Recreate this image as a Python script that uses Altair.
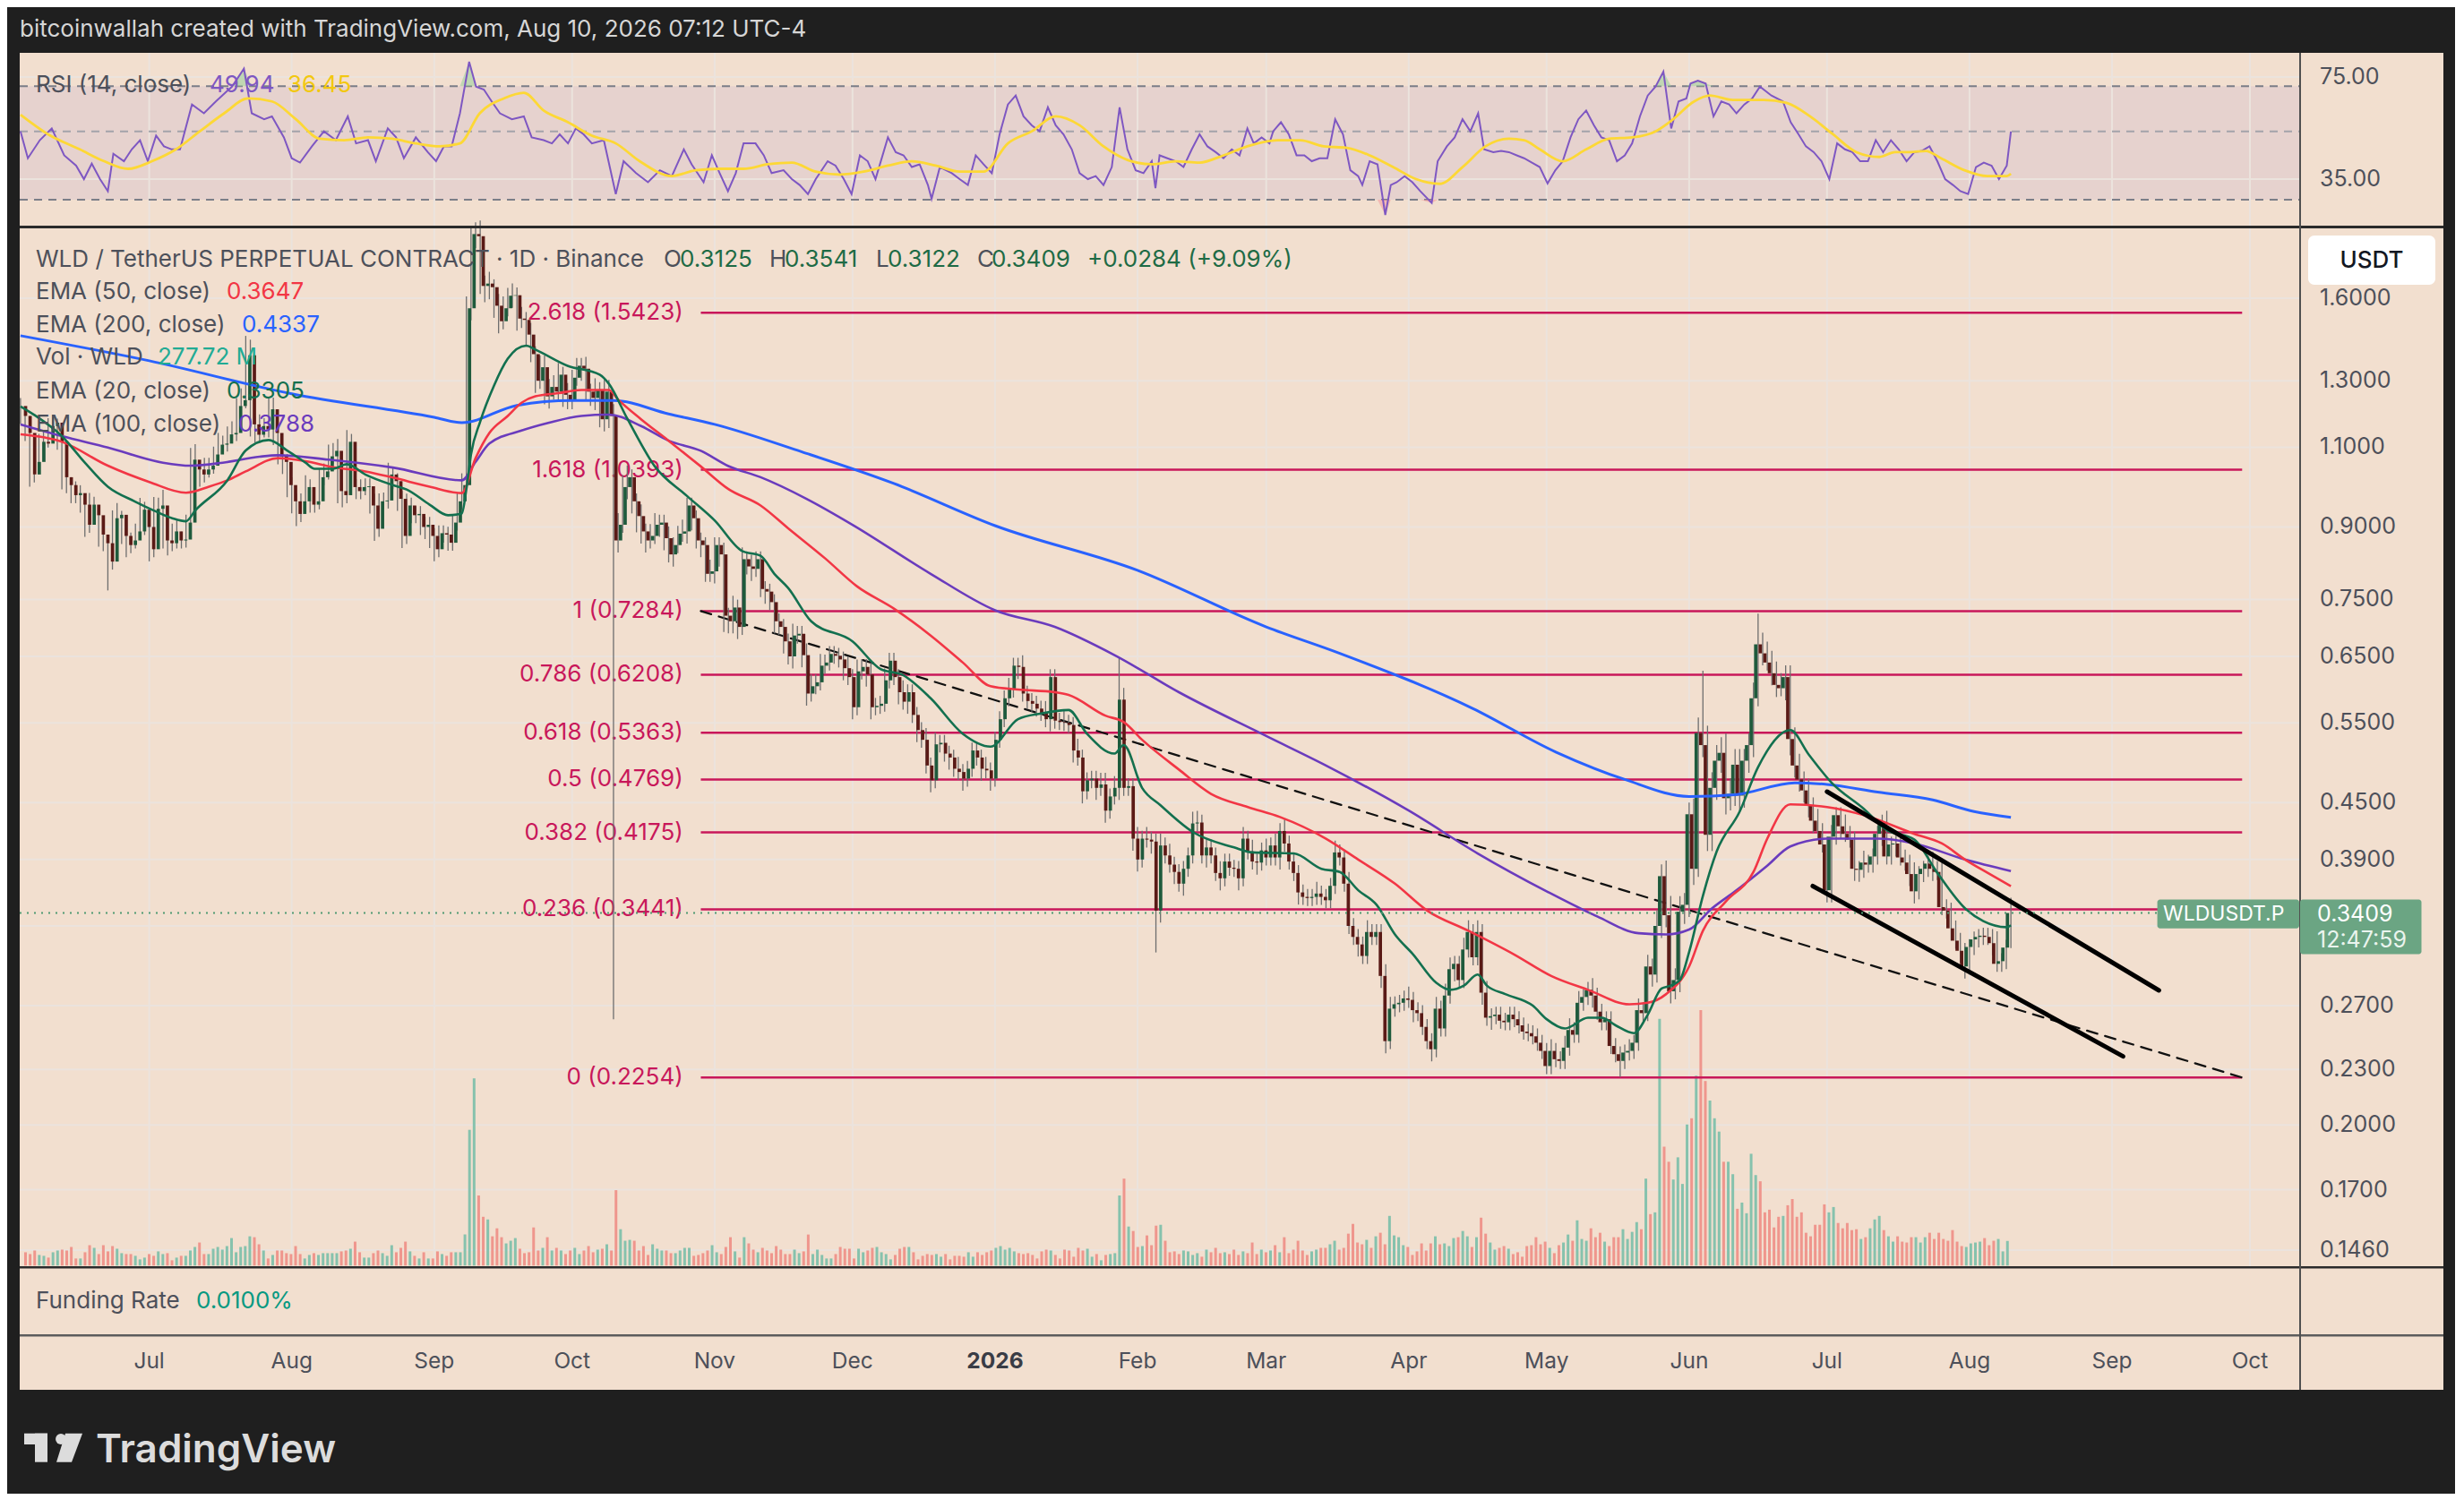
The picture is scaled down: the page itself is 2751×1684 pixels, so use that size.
import altair as alt
import numpy as np
import pandas as pd

W, H = 2733, 1660
FONT = "Inter, Roboto, 'Open Sans', sans-serif"
START = pd.Timestamp("2025-06-03")

# ---------------- candles (daily, from 2025-06-03 to 2026-08-10) ----------------
OPEN0 = 1.22
CLOSE = [
    # Jun 3 2025 - Sep 8 2025
    1.19, 1.14, 1.027, 1.06, 1.115, 1.11, 1.16, 1.17, 1.115, 1.02,
    1.00, 0.975, 0.98, 0.952, 0.905, 0.952, 0.927, 0.883, 0.864, 0.825,
    0.92, 0.928, 0.88, 0.86, 0.87, 0.89, 0.94, 0.90, 0.851, 0.942,
    0.95, 0.87, 0.864, 0.89, 0.87, 0.872, 0.91, 1.066, 1.04, 1.027,
    1.04, 1.05, 1.08, 1.107, 1.11, 1.136, 1.14, 1.22, 1.238, 1.386,
    1.165, 1.135, 1.16, 1.15, 1.21, 1.14, 1.075, 1.06, 1.00, 0.96,
    0.93, 0.96, 0.995, 0.952, 0.96, 1.02, 1.035, 1.075, 1.09, 0.985,
    0.975, 1.115, 0.995, 0.985, 0.995, 0.997, 0.95, 0.896, 0.96, 0.962,
    1.027, 1.01, 0.966, 0.88, 0.95, 0.927, 0.93, 0.90, 0.905, 0.88,
    0.851, 0.886, 0.883, 0.865, 0.91, 0.96, 1.00, 1.56,
    # Sep 9 - Nov 16
    1.88, 1.87, 1.65, 1.66, 1.645, 1.57, 1.51, 1.56, 1.61, 1.612,
    1.52, 1.515, 1.46, 1.39, 1.30, 1.345, 1.25, 1.28, 1.265, 1.32,
    1.255, 1.235, 1.31, 1.35, 1.34, 1.265, 1.245, 1.27, 1.18, 1.265,
    1.19, 0.87, 0.905, 0.995, 1.02, 0.96, 0.925, 0.89, 0.87, 0.88,
    0.905, 0.91, 0.875, 0.84, 0.86, 0.885, 0.89, 0.95, 0.92, 0.87,
    0.86, 0.80, 0.805, 0.86, 0.84, 0.72, 0.71, 0.735, 0.70, 0.83,
    0.815, 0.81, 0.83, 0.77, 0.765, 0.745, 0.71, 0.70, 0.675,
    # Nov 17 - Mar 13 2026
    0.650, 0.685, 0.688, 0.652, 0.592, 0.603, 0.609, 0.635, 0.640, 0.654,
    0.651, 0.645, 0.631, 0.617, 0.572, 0.626, 0.633, 0.621, 0.572, 0.574,
    0.577, 0.612, 0.643, 0.617, 0.594, 0.580, 0.594, 0.561, 0.540, 0.527,
    0.494, 0.476, 0.521, 0.523, 0.509, 0.504, 0.490, 0.486, 0.478, 0.490,
    0.513, 0.504, 0.490, 0.488, 0.478, 0.527, 0.555, 0.585, 0.598, 0.635,
    0.633, 0.592, 0.581, 0.577, 0.570, 0.564, 0.555, 0.617, 0.553, 0.551,
    0.550, 0.547, 0.513, 0.504, 0.463, 0.476, 0.478, 0.467, 0.471, 0.441,
    0.457, 0.467, 0.583, 0.467, 0.469, 0.411, 0.390, 0.411, 0.410, 0.408,
    0.343, 0.404, 0.394, 0.385, 0.378, 0.367, 0.381, 0.394, 0.427, 0.428,
    0.394, 0.402, 0.394, 0.377, 0.372, 0.388, 0.382, 0.381, 0.372, 0.411,
    0.398, 0.388, 0.387, 0.399, 0.392, 0.404, 0.392, 0.419, 0.406, 0.388,
    0.377, 0.359, 0.355, 0.354, 0.355, 0.358, 0.355,
    # Mar 14 - May 31
    0.352, 0.365, 0.397, 0.392, 0.367, 0.330, 0.321, 0.315, 0.306, 0.325,
    0.321, 0.325, 0.291, 0.247, 0.268, 0.271, 0.272, 0.275, 0.274, 0.267,
    0.265, 0.256, 0.247, 0.242, 0.268, 0.255, 0.277, 0.296, 0.300, 0.288,
    0.311, 0.325, 0.305, 0.325, 0.279, 0.262, 0.263, 0.264, 0.260, 0.259,
    0.264, 0.261, 0.257, 0.253, 0.252, 0.250, 0.246, 0.241, 0.232, 0.241,
    0.236, 0.235, 0.243, 0.254, 0.251, 0.272, 0.276, 0.281, 0.277, 0.266,
    0.259, 0.261, 0.244, 0.239, 0.235, 0.240, 0.241, 0.246, 0.267, 0.265,
    0.298, 0.292, 0.330, 0.374, 0.339, 0.280, 0.288, 0.342, 0.348,
    # Jun 1 - Aug 10 2026
    0.437, 0.381, 0.536, 0.520, 0.415, 0.467, 0.500, 0.510, 0.455, 0.460,
    0.495, 0.458, 0.500, 0.520, 0.585, 0.670, 0.655, 0.640, 0.623, 0.605,
    0.600, 0.617, 0.528, 0.494, 0.477, 0.464, 0.447, 0.430, 0.419, 0.405,
    0.361, 0.413, 0.436, 0.424, 0.416, 0.410, 0.381, 0.380, 0.387, 0.385,
    0.393, 0.416, 0.428, 0.393, 0.405, 0.406, 0.392, 0.387, 0.376, 0.360,
    0.376, 0.381, 0.386, 0.381, 0.378, 0.346, 0.343, 0.328, 0.318, 0.310, 0.298,
    0.313, 0.319, 0.321, 0.322, 0.321, 0.316, 0.300, 0.302, 0.3125, 0.3409,
]
# upper / lower wick length, % beyond the candle body
UP = [
    2, 2, 3, 2, 2, 3, 2, 2, 1, 3,  2, 2, 3, 2, 1, 3, 2, 2, 3, 2,
    2, 3, 1, 2, 2, 2, 3, 2, 2, 3,  2, 4, 2, 2, 3, 2, 2, 3, 4, 2,
    3, 2, 2, 3, 2, 2, 3, 2, 3, 5,  4, 2, 3, 2, 3, 3, 2, 2, 2, 2,
    2, 2, 3, 2, 2, 2, 2, 3, 2, 3,  2, 3, 2, 2, 2, 2, 2, 3, 2, 2,
    3, 2, 2, 2, 3, 2, 2, 2, 2, 2,  2, 2, 2, 2, 2, 2, 3, 3,
    1.5, 3, 4, 2, 3, 2, 3, 3, 2, 3,  2, 3, 2, 3, 2, 3, 3, 2, 3, 3,
    2, 3, 2, 2, 2, 3, 2, 3, 2, 3,  3, 3, 3, 3, 3, 2, 2, 3, 2, 3,
    3, 2, 2, 3, 2, 2, 3, 2, 2, 2,  2, 2, 3, 2, 2, 3, 2, 3, 2, 3,
    2, 3, 2, 2, 2, 2, 2, 2, 2,
    2, 3, 2, 2, 3, 3, 2, 3, 2, 2,  2, 2, 2, 3, 2, 3, 2, 2, 3, 2,
    2, 3, 2, 2, 2, 3, 2, 2, 2, 2,  3, 2, 3, 2, 2, 2, 2, 3, 2, 2,
    2, 2, 2, 3, 2, 2, 2, 2, 3, 2,  2, 3, 2, 2, 2, 2, 3, 2, 2, 2,
    3, 2, 2, 3, 2, 2, 2, 2, 3, 3,  2, 3, 11, 3, 2, 2, 3, 2, 3, 2,
    2, 3, 2, 3, 2, 2, 2, 2, 3, 3,  2, 2, 2, 2, 3, 2, 2, 2, 2, 3,
    2, 3, 2, 2, 3, 2, 3, 2, 3, 2,  2, 2, 2, 2, 2, 3, 2,
    2, 2, 3, 2, 2, 3, 2, 2, 2, 3,  2, 2, 2, 3, 3, 2, 2, 2, 3, 2,
    2, 2, 2, 2, 3, 2, 3, 3, 2, 2,  3, 3, 2, 3, 2, 3, 2, 2, 2, 2,
    2, 2, 2, 2, 2, 2, 2, 2, 2, 3,  2, 2, 3, 3, 2, 3, 2, 2, 3, 2,
    2, 2, 2, 2, 2, 2, 3, 2, 3, 2,  3, 2, 4, 3, 4, 5, 3, 4, 3,
    3, 4, 4, 17, 5, 4, 4, 4, 5, 4,  4, 4, 3, 3, 4, 8, 3, 3, 3, 3,
    3, 3, 3, 3, 3, 2, 3, 2, 3, 2,  2, 3, 2, 2, 3, 2, 2, 2, 3, 2,
    2, 2, 2, 3, 2, 2, 3, 2, 2, 3,  2, 2, 2, 3, 2, 3, 2, 2, 2, 2, 2,
    2, 2, 2, 2, 2, 2, 3, 2, 2, 3.9,
]
DN = [
    2, 2, 3, 2, 2, 2, 1, 2, 2, 3,  2, 2, 2, 2, 3, 2, 2, 3, 2, 7,
    2, 2, 2, 3, 2, 2, 1, 2, 3, 2,  2, 2, 3, 2, 2, 2, 2, 2, 2, 3,
    2, 2, 2, 2, 2, 2, 2, 2, 2, 2,  3, 2, 2, 2, 2, 3, 2, 3, 3, 3,
    3, 2, 2, 2, 2, 2, 2, 2, 2, 3,  3, 2, 2, 2, 2, 2, 2, 3, 2, 2,
    2, 2, 3, 3, 2, 2, 2, 2, 3, 3,  3, 2, 2, 2, 2, 2, 2, 1,
    3, 3, 2, 4, 3, 3, 3, 2, 2, 3,  3, 2, 3, 2, 3, 2, 2, 3, 2, 2,
    3, 2, 2, 2, 3, 2, 2, 3, 2, 3,  3, 70, 3, 2, 3, 3, 4, 3, 3, 2,
    2, 3, 3, 2, 3, 2, 2, 3, 3, 2,  3, 2, 2, 3, 3, 4, 3, 3, 3, 2,
    2, 3, 2, 2, 3, 2, 3, 2, 3,
    2, 3, 2, 3, 3, 2, 2, 2, 2, 2,  2, 2, 3, 2, 3, 2, 2, 3, 3, 2,
    2, 2, 2, 2, 3, 2, 3, 2, 3, 2,  2, 3, 2, 2, 2, 3, 2, 2, 3, 2,
    2, 2, 3, 2, 3, 2, 2, 2, 2, 2,  3, 2, 2, 2, 2, 2, 2, 3, 2, 2,
    2, 2, 3, 2, 3, 2, 2, 3, 2, 3,  2, 2, 3, 2, 2, 3, 3, 2, 2, 3,
    10, 3, 2, 2, 3, 2, 3, 2, 2, 2,  2, 3, 2, 2, 3, 2, 2, 2, 3, 2,
    2, 2, 3, 2, 2, 2, 2, 3, 2, 2,  2, 3, 2, 2, 2, 2, 2,
    2, 2, 2, 2, 2, 2, 2, 3, 2, 2,  2, 2, 3, 3, 2, 2, 2, 2, 2, 3,
    2, 2, 2, 3, 2, 2, 2, 2, 3, 2,  2, 2, 2, 2, 3, 2, 3, 2, 2, 2,
    2, 2, 2, 2, 2, 2, 2, 2, 2, 2,  2, 2, 2, 2, 2, 2, 2, 2, 3, 2,
    2, 2, 2, 2, 4, 2, 2, 2, 2, 2,  2, 3, 2, 3, 3, 3, 2, 3, 3,
    3, 4, 2, 3, 4, 4, 3, 3, 4, 3,  3, 4, 3, 3, 3, 2, 3, 2, 3, 3,
    2, 3, 4, 3, 3, 3, 3, 3, 2, 2,  3, 3, 2, 3, 2, 2, 3, 3, 2, 2,
    2, 2, 3, 2, 2, 3, 2, 2, 3, 3,  2, 2, 2, 3, 2, 2, 2, 3, 2, 3, 3,
    2, 2, 2, 2, 2, 3, 2, 2, 2, 0.1,
]
# volume, millions of WLD
VOL = [
    150, 130, 170, 120, 110, 90, 150, 170, 180, 170,
    210, 80, 80, 150, 230, 200, 130, 230, 160, 220,
    190, 140, 130, 130, 110, 70, 90, 130, 110, 160,
    130, 140, 60, 90, 110, 110, 170, 210, 260, 130,
    130, 190, 210, 180, 220, 310, 150, 210, 220, 330,
    320, 240, 170, 80, 120, 170, 170, 140, 130, 220,
    130, 80, 120, 140, 120, 140, 140, 140, 140, 160,
    170, 190, 270, 150, 90, 90, 140, 170, 140, 110,
    230, 150, 200, 270, 160, 110, 80, 150, 80, 80,
    160, 130, 110, 150, 150, 150, 350, 1530,
    2110, 790, 550, 520, 330, 420, 320, 250, 280, 310,
    190, 140, 150, 430, 170, 200, 320, 170, 200, 170,
    130, 170, 200, 130, 170, 220, 150, 180, 190, 240,
    170, 850, 410, 280, 290, 280, 170, 220, 120, 240,
    190, 170, 170, 140, 140, 170, 200, 200, 110, 120,
    140, 170, 230, 150, 130, 210, 320, 160, 90, 320,
    250, 180, 150, 200, 170, 140, 220, 180, 130,
    130, 180, 140, 160, 350, 130, 180, 120, 80, 80,
    130, 210, 190, 190, 80, 190, 150, 170, 200, 210,
    150, 130, 70, 120, 190, 210, 210, 150, 70, 110,
    130, 120, 130, 100, 130, 70, 110, 110, 100, 150,
    100, 150, 120, 150, 170, 200, 220, 180, 200, 160,
    140,
    130, 140, 120, 80, 160, 180, 170, 120, 80, 180,
    170, 100, 200, 170, 190, 100, 130, 60, 120, 130,
    140, 790, 980, 440, 390, 210, 220, 340, 230, 450,
    460, 280, 150, 160, 130, 170, 160, 120, 140, 100,
    180, 150, 200, 140, 150, 130, 180, 120, 160, 140,
    260, 130, 180, 150, 170, 230, 150, 320, 140, 180,
    280, 170, 120, 160, 180, 200,
    200, 240, 280, 180, 200, 360, 470, 260, 240, 290, 200, 330, 370, 240,
    560, 340, 320, 230, 210, 120, 160, 250, 170, 250, 330, 240, 250, 220, 310, 320, 390, 330, 210, 320,
    540, 360, 260, 180, 200, 220, 190, 130, 150, 100, 220, 230, 320, 240, 270, 200, 140, 230, 260, 350,
    280, 510, 300, 280, 420, 320, 370, 270, 220, 320, 320, 410, 300, 380,
    490, 410, 980, 580, 600, 2780, 1340, 1170, 970, 1220, 920,
    1590, 1660, 2140, 2880, 2080, 1860, 1660, 1510, 1170, 1170,
    1030, 640, 710, 590, 1260, 1020, 950, 600, 630, 430,
    550, 560, 680, 750, 550, 600, 370, 330, 460, 460,
    690, 600, 660, 480, 420, 480, 400, 410, 300, 320,
    420, 520, 560, 400, 330, 270, 330, 270, 260, 320,
    320, 260, 320, 370, 300, 370, 300, 280, 400, 270, 220,
    210, 250, 260, 270, 310, 230, 280, 300, 160, 277.72,
]

# ---------------- moving averages ----------------
EMA200 = [("2025-06-03", 1.456), ("2025-07-01", 1.367), ("2025-08-01", 1.258), ("2025-09-01", 1.186),
          ("2025-09-07", 1.170), ("2025-09-19", 1.222), ("2025-10-01", 1.237), ("2025-10-10", 1.237),
          ("2025-10-22", 1.196), ("2025-11-01", 1.165), ("2025-11-20", 1.087), ("2025-12-10", 1.004),
          ("2026-01-01", 0.903), ("2026-02-01", 0.807), ("2026-03-01", 0.700), ("2026-03-17", 0.655),
          ("2026-04-15", 0.570), ("2026-05-03", 0.511), ("2026-05-18", 0.477), ("2026-06-01", 0.457),
          ("2026-06-11", 0.459), ("2026-06-24", 0.473), ("2026-07-01", 0.471), ("2026-07-12", 0.462),
          ("2026-07-24", 0.453), ("2026-08-02", 0.440), ("2026-08-10", 0.4337)]
EMA100 = [("2025-06-03", 1.165), ("2025-06-12", 1.131), ("2025-06-22", 1.099), ("2025-07-04", 1.058),
          ("2025-07-10", 1.050), ("2025-07-17", 1.058), ("2025-07-25", 1.074), ("2025-07-29", 1.078),
          ("2025-08-09", 1.066), ("2025-08-23", 1.045), ("2025-09-07", 1.012), ("2025-09-10", 1.06),
          ("2025-09-13", 1.11), ("2025-09-20", 1.147), ("2025-09-26", 1.17), ("2025-10-03", 1.19),
          ("2025-10-09", 1.194), ("2025-10-16", 1.16), ("2025-10-22", 1.118), ("2025-10-29", 1.09),
          ("2025-11-04", 1.049), ("2025-11-11", 1.02), ("2025-11-21", 0.966), ("2025-12-01", 0.905),
          ("2025-12-18", 0.800), ("2026-01-01", 0.730), ("2026-01-14", 0.700), ("2026-01-27", 0.652),
          ("2026-02-10", 0.594), ("2026-03-01", 0.532), ("2026-03-14", 0.494), ("2026-04-01", 0.441),
          ("2026-04-16", 0.396), ("2026-05-01", 0.360), ("2026-05-12", 0.338), ("2026-05-21", 0.324),
          ("2026-05-27", 0.323), ("2026-06-01", 0.327), ("2026-06-06", 0.345), ("2026-06-11", 0.360),
          ("2026-06-18", 0.384), ("2026-06-23", 0.403), ("2026-07-01", 0.411), ("2026-07-12", 0.411),
          ("2026-07-20", 0.406), ("2026-07-31", 0.390), ("2026-08-10", 0.3788)]
EMA50 = [("2025-06-03", 1.136), ("2025-06-12", 1.115), ("2025-06-22", 1.050), ("2025-07-01", 1.008),
         ("2025-07-09", 0.981), ("2025-07-14", 0.996), ("2025-07-18", 1.012), ("2025-07-22", 1.035),
         ("2025-07-29", 1.070), ("2025-08-04", 1.062), ("2025-08-10", 1.046), ("2025-08-17", 1.035),
         ("2025-08-23", 1.019), ("2025-08-31", 0.996), ("2025-09-07", 0.980), ("2025-09-10", 1.07),
         ("2025-09-13", 1.14), ("2025-09-17", 1.19), ("2025-09-20", 1.23), ("2025-09-23", 1.25),
         ("2025-09-28", 1.26), ("2025-10-03", 1.27), ("2025-10-09", 1.27), ("2025-10-11", 1.24),
         ("2025-10-16", 1.18), ("2025-10-22", 1.118), ("2025-10-29", 1.048), ("2025-11-04", 0.99),
         ("2025-11-11", 0.95), ("2025-11-17", 0.897), ("2025-11-25", 0.832), ("2025-12-02", 0.775),
         ("2025-12-10", 0.733), ("2025-12-18", 0.685), ("2025-12-25", 0.640), ("2025-12-31", 0.603),
         ("2026-01-06", 0.598), ("2026-01-14", 0.594), ("2026-01-17", 0.590), ("2026-01-25", 0.560),
         ("2026-01-29", 0.551), ("2026-02-02", 0.527), ("2026-02-10", 0.489), ("2026-02-17", 0.460),
         ("2026-02-25", 0.445), ("2026-03-04", 0.434), ("2026-03-14", 0.411), ("2026-03-21", 0.390),
         ("2026-03-29", 0.367), ("2026-04-05", 0.343), ("2026-04-14", 0.326), ("2026-04-24", 0.307),
         ("2026-05-02", 0.291), ("2026-05-10", 0.281), ("2026-05-19", 0.271), ("2026-05-23", 0.272),
         ("2026-05-27", 0.278), ("2026-06-01", 0.298), ("2026-06-04", 0.326), ("2026-06-09", 0.351),
         ("2026-06-15", 0.378), ("2026-06-18", 0.411), ("2026-06-23", 0.448), ("2026-07-01", 0.445),
         ("2026-07-09", 0.436), ("2026-07-20", 0.416), ("2026-07-26", 0.406), ("2026-07-31", 0.390),
         ("2026-08-05", 0.377), ("2026-08-10", 0.3647)]
EMA20 = [("2025-06-03", 1.219), ("2025-06-06", 1.193), ("2025-06-12", 1.131), ("2025-06-17", 1.058),
         ("2025-06-22", 0.996), ("2025-06-28", 0.959), ("2025-07-02", 0.938), ("2025-07-06", 0.920),
         ("2025-07-09", 0.913), ("2025-07-11", 0.938), ("2025-07-18", 1.012), ("2025-07-22", 1.091),
         ("2025-07-27", 1.120), ("2025-07-31", 1.091), ("2025-08-04", 1.058), ("2025-08-06", 1.042),
         ("2025-08-10", 1.042), ("2025-08-13", 1.054), ("2025-08-17", 1.027), ("2025-08-23", 1.000),
         ("2025-08-26", 0.989), ("2025-08-31", 0.952), ("2025-09-04", 0.927), ("2025-09-07", 0.931),
         ("2025-09-08", 0.99), ("2025-09-09", 1.08), ("2025-09-11", 1.173), ("2025-09-14", 1.284),
         ("2025-09-17", 1.374), ("2025-09-21", 1.42), ("2025-09-23", 1.406), ("2025-09-30", 1.35),
         ("2025-10-07", 1.32), ("2025-10-09", 1.29), ("2025-10-13", 1.182), ("2025-10-19", 1.048),
         ("2025-10-26", 0.973), ("2025-11-01", 0.915), ("2025-11-07", 0.847), ("2025-11-11", 0.837),
         ("2025-11-14", 0.80), ("2025-11-17", 0.772), ("2025-11-22", 0.71), ("2025-12-01", 0.675),
         ("2025-12-07", 0.63), ("2025-12-12", 0.62), ("2025-12-18", 0.585), ("2025-12-25", 0.535),
         ("2025-12-31", 0.518), ("2026-01-06", 0.555), ("2026-01-11", 0.563), ("2026-01-17", 0.568),
         ("2026-01-21", 0.535), ("2026-01-27", 0.509), ("2026-01-29", 0.52), ("2026-02-02", 0.467),
         ("2026-02-06", 0.447), ("2026-02-13", 0.418), ("2026-02-22", 0.402), ("2026-02-26", 0.397),
         ("2026-03-07", 0.396), ("2026-03-13", 0.381), ("2026-03-17", 0.378), ("2026-03-21", 0.361),
         ("2026-03-25", 0.348), ("2026-03-29", 0.323), ("2026-04-02", 0.307), ("2026-04-07", 0.286),
         ("2026-04-10", 0.281), ("2026-04-13", 0.284), ("2026-04-16", 0.292), ("2026-04-18", 0.284),
         ("2026-04-22", 0.278), ("2026-04-28", 0.270), ("2026-05-01", 0.261), ("2026-05-05", 0.255),
         ("2026-05-10", 0.262), ("2026-05-13", 0.262), ("2026-05-16", 0.257), ("2026-05-20", 0.252),
         ("2026-05-23", 0.264), ("2026-05-26", 0.282), ("2026-05-28", 0.284), ("2026-05-30", 0.288),
         ("2026-06-01", 0.309), ("2026-06-04", 0.356), ("2026-06-07", 0.398), ("2026-06-12", 0.44),
         ("2026-06-16", 0.492), ("2026-06-23", 0.54), ("2026-06-27", 0.508), ("2026-07-02", 0.473),
         ("2026-07-09", 0.443), ("2026-07-14", 0.42), ("2026-07-20", 0.41), ("2026-07-25", 0.377),
         ("2026-07-31", 0.345), ("2026-08-04", 0.334), ("2026-08-09", 0.329), ("2026-08-10", 0.3305)]

# ---------------- RSI pane (day index from 2025-06-03, value) ----------------
RSI = [(0, 50.0), (1.6, 40.9), (4.2, 46.8), (6.8, 51.1), (9.5, 41.8), (12.1, 38.7), (13.8, 35.0), (15.5, 39.3), (17.3, 35.0), (19.0, 32.0),
       (20.2, 42.3), (22.5, 40.0), (24.2, 43.7), (26.0, 46.8), (27.7, 40.0), (29.5, 48.4), (31.2, 44.7), (32.9, 43.7), (34.7, 43.7), (37.3, 61.1),
       (39.9, 57.2), (42.5, 62.5), (46.0, 69.8), (48.6, 79.8), (50.3, 57.2), (53.0, 54.7), (54.7, 55.9), (57.3, 47.8), (59.0, 40.9), (60.8, 39.6),
       (63.4, 44.7), (66.0, 50.0), (68.6, 46.8), (71.2, 55.9), (73.0, 45.7), (75.6, 46.8), (77.3, 40.0), (79.9, 51.1), (81.7, 47.8), (83.4, 40.9),
       (86.0, 47.8), (88.6, 42.8), (90.4, 40.0), (92.1, 44.7), (93.8, 44.7), (95.6, 57.2), (97.6, 84.0), (99.1, 69.8), (100.8, 68.3), (102.5, 62.5),
       (104.3, 57.2), (106.9, 54.7), (109.5, 55.9), (111.2, 47.8), (113.8, 46.8), (115.6, 45.7), (117.3, 48.9), (119.1, 45.7), (120.8, 51.1), (122.5, 48.9),
       (124.3, 45.7), (126.9, 46.8), (129.5, 31.3), (131.2, 40.0), (133.9, 36.6), (136.5, 34.2), (139.1, 37.4), (141.7, 35.8), (144.3, 43.7), (146.0, 39.1),
       (148.6, 34.2), (150.4, 41.8), (152.1, 36.6), (153.9, 32.0), (155.6, 36.6), (157.3, 45.7), (159.9, 45.7), (161.7, 41.8), (163.4, 36.6), (166.0, 37.4),
       (167.8, 35.0), (169.5, 33.5), (171.3, 31.3), (173.0, 35.0), (175.6, 40.0), (177.3, 38.7), (179.1, 35.0), (180.8, 31.3), (182.6, 41.8), (184.3, 40.0),
       (186.0, 35.0), (188.7, 47.8), (190.4, 42.8), (192.1, 41.8), (193.9, 38.3), (195.6, 39.1), (197.4, 33.5), (198.2, 30.2), (200.0, 38.3), (202.6, 36.6),
       (204.3, 35.0), (206.1, 33.5), (207.8, 41.8), (209.5, 39.1), (211.3, 36.6), (213.0, 48.9), (214.8, 61.1), (216.5, 65.3), (218.2, 55.9), (220.0, 52.3),
       (221.7, 50.0), (223.5, 59.8), (225.2, 52.3), (226.9, 48.9), (228.7, 43.7), (230.4, 36.6), (232.2, 35.0), (233.9, 35.8), (235.6, 33.5), (237.4, 38.3),
       (239.1, 59.8), (240.8, 43.7), (242.6, 37.4), (244.3, 36.6), (246.1, 40.0), (246.9, 32.7), (247.8, 41.8), (249.5, 40.9), (251.3, 40.0), (253.0, 38.3),
       (254.8, 43.7), (256.5, 48.9), (258.2, 44.7), (260.0, 42.8), (261.7, 40.9), (263.5, 43.7), (265.2, 41.8), (266.9, 51.1),
       (268.3, 45.7), (270.0, 47.8), (271.7, 45.7), (272.5, 50.0), (274.2, 53.5), (275.9, 48.9), (277.6, 41.8), (279.3, 41.8), (280.9, 40.0), (282.6, 40.9),
       (284.3, 40.9), (286.0, 54.7), (287.7, 48.9), (289.3, 37.4), (291.0, 35.8), (291.9, 33.5), (293.5, 40.0), (295.2, 39.1), (296.9, 26.8), (298.1, 33.5),
       (299.4, 34.2), (301.1, 35.8), (302.8, 34.2), (304.5, 32.0), (307.0, 29.3), (308.3, 40.0), (310.3, 44.7), (312.0, 47.8), (313.7, 54.7), (315.4, 50.0),
       (317.1, 57.2), (318.4, 43.7), (320.4, 42.8), (322.1, 43.2), (323.8, 42.8), (325.5, 41.8), (327.1, 40.9), (328.8, 39.6), (330.5, 38.3), (332.2, 33.9),
       (333.9, 37.4), (335.5, 40.0), (337.2, 47.8), (338.9, 54.7), (340.6, 58.4), (342.3, 52.3), (343.9, 47.8), (345.6, 46.8), (347.3, 40.0), (349.0, 41.8),
       (350.6, 45.7), (352.3, 55.9), (354.0, 65.3), (355.7, 69.8), (357.4, 78.1), (359.1, 51.1), (360.7, 62.5), (362.4, 63.9), (363.3, 71.4), (364.9, 73.0),
       (366.6, 71.4), (368.3, 55.9), (370.0, 62.5), (371.7, 61.1), (373.3, 57.2), (375.0, 61.1), (376.7, 63.9), (378.4, 69.8), (380.9, 65.3), (383.4, 62.5),
       (385.1, 53.5), (386.8, 48.9), (388.4, 44.7), (390.1, 42.8), (391.8, 40.0), (393.5, 35.0), (395.2, 45.7), (396.9, 43.7), (398.5, 42.8), (400.2, 40.0),
       (401.9, 40.0), (403.6, 46.8), (405.2, 42.8), (406.9, 46.8), (408.6, 43.7), (410.3, 40.0), (412.0, 42.8), (413.6, 43.2), (415.3, 44.7), (417.0, 40.0),
       (418.7, 35.0), (420.4, 33.5), (422.0, 32.0), (423.7, 31.3), (425.4, 38.3), (427.1, 39.6), (428.8, 38.7), (430.4, 35.0), (432.1, 38.7), (433.0, 49.94)]
RSI_MA = [(0, 56.6), (6.0, 48.9), (12.9, 43.7), (18.2, 40.0), (23.4, 37.8), (28.6, 40.0), (33.8, 43.7), (39.0, 50.0), (44.3, 57.2), (49.5, 63.9),
          (54.7, 62.5), (59.9, 54.7), (65.1, 47.3), (70.4, 46.8), (75.6, 47.8), (80.8, 47.3), (86.0, 45.7), (91.2, 44.7), (95.6, 45.7), (99.9, 57.2),
          (105.1, 63.9), (109.5, 66.7), (113.8, 58.4), (119.1, 53.5), (124.3, 48.4), (129.5, 45.7), (134.7, 40.0), (141.7, 35.8), (146.9, 37.4), (152.1, 37.8),
          (157.3, 37.8), (162.6, 39.1), (167.8, 39.6), (173.0, 37.0), (178.2, 36.2), (183.4, 37.0), (188.7, 38.7), (193.9, 40.0), (199.1, 38.7), (204.3, 37.0),
          (209.5, 37.0), (214.8, 45.7), (220.0, 50.0), (225.2, 55.9), (230.4, 52.3), (235.6, 44.7), (240.8, 40.4), (246.1, 39.1), (251.3, 40.0), (256.5, 39.6),
          (261.7, 41.8), (266.9, 44.7), (273.4, 46.8), (278.4, 46.8), (283.5, 44.7), (288.5, 44.2), (293.5, 41.8), (298.6, 38.3), (303.6, 35.0), (308.7, 33.8),
          (313.7, 38.3), (318.7, 44.7), (323.8, 47.3), (327.1, 46.8), (330.5, 43.7), (335.5, 40.0), (340.6, 43.7), (345.6, 47.3), (350.6, 47.8), (355.7, 50.0),
          (359.1, 54.1), (364.1, 62.5), (367.5, 65.3), (372.5, 63.2), (379.2, 63.2), (384.2, 61.8), (389.3, 55.9), (394.3, 48.9), (399.4, 42.8), (404.4, 41.3),
          (407.8, 42.8), (411.1, 42.8), (414.5, 43.2), (417.8, 40.9), (422.9, 37.4), (427.9, 35.8), (432.1, 35.8), (433.0, 36.45)]

# ---------------- drawings ----------------
FIB_RATIO = ["2.618", "1.618", "1", "0.786", "0.618", "0.5", "0.382", "0.236", "0"]
FIB_PRICE = [1.5423, 1.0393, 0.7284, 0.6208, 0.5363, 0.4769, 0.4175, 0.3441, 0.2254]
FIB_FROM, FIB_TO = 148.0, 483.3
DIAG = [(148.0, 0.7284), (483.3, 0.2254)]
CH_UPPER = [(393.0, 0.4626), (465.2, 0.2806)]
CH_LOWER = [(389.9, 0.3648), (457.4, 0.2377)]
LAST_PRICE = 0.3409

PRICE_TICKS = [1.6, 1.3, 1.1, 0.9, 0.75, 0.65, 0.55, 0.45, 0.39, 0.27, 0.23, 0.20, 0.17, 0.146]
HIDDEN_TICKS = [0.33]
RSI_TICKS = [75, 35]
MONTH_K = [28, 59, 90, 120, 151, 181, 212, 243, 271, 302, 332, 363, 393, 424, 455, 485]
MONTH_LAB = ["Jul", "Aug", "Sep", "Oct", "Nov", "Dec", "2026", "Feb", "Mar", "Apr", "May", "Jun", "Jul", "Aug", "Sep", "Oct"]

# TradingView logo pieces (pixel layout of the watermark)
LOGO_SLANT = [(1592.7, 65.0, 84.0), (1624.7, 55.0, 72.0)]

# ---------------- colours ----------------
BG = "#1f1f1f"
PANE = "#f2dfcf"
GRID = "#ebe3dd"
UPC, DNC = "#1e5a3c", "#5a1a16"
VUP, VDN = "#86c2ad", "#ef968d"
FIBC = "#c8175a"
TXT = "#4d505a"
LOGO = "#dcdcdc"

# ---------------- build tables ----------------
n = min(len(CLOSE), len(UP), len(DN), len(VOL))
opens = [OPEN0] + CLOSE[: n - 1]
df = pd.DataFrame({"k": np.arange(n), "o": opens[:n], "c": CLOSE[:n],
                   "up": UP[:n], "dn": DN[:n], "vol": VOL[:n]})
df["hi"] = np.maximum(df.o, df.c) * (1 + df.up / 100.0)
df["lo"] = np.minimum(df.o, df.c) * (1 - df.dn / 100.0)
df["body"] = np.where(df.c >= df.o, UPC, DNC)
df["vcol"] = np.where(df.c >= df.o, VUP, VDN)
df["z"] = 0.0


def kdf(pairs):
    d = pd.DataFrame(pairs, columns=["d", "v"])
    d["k"] = (pd.to_datetime(d["d"]) - START).dt.days
    return d[["k", "v"]]


rsi = pd.DataFrame(RSI, columns=["k", "v"])
rsi["ob"] = np.maximum(rsi.v, 70.0)
rsi["os"] = np.minimum(rsi.v, 30.0)
rsi["l70"] = 70.0
rsi["l30"] = 30.0
rsima = pd.DataFrame(RSI_MA, columns=["k", "v"])
fib = pd.DataFrame({"p": FIB_PRICE, "a": FIB_FROM, "b": FIB_TO,
                    "lab": [f"{r} ({p:.4f})" for r, p in zip(FIB_RATIO, FIB_PRICE)]})
DUMMY = pd.DataFrame({"a": [0]})

XS = alt.Scale(domain=[28, 485], range=[158.6, 2504.0], nice=False, zero=False)
PS = alt.Scale(type="log", domain=[0.146, 1.6], range=[1388.1, 325.0], nice=False)
VS = alt.Scale(domain=[0, 3000], range=[1405.3, 1108.0], nice=False, zero=False)
RS = alt.Scale(type="log", domain=[30, 70], range=[215.1, 88.3], nice=False)


def X(f):
    return alt.X(f, type="quantitative", scale=XS, axis=None)


def Y(f, s):
    return alt.Y(f, type="quantitative", scale=s, axis=None)


def rect_px(x1, x2, y1, y2, color, **kw):
    return alt.Chart(DUMMY).mark_rect(color=color, **kw).encode(
        x=alt.value(x1), x2=alt.value(x2), y=alt.value(y1), y2=alt.value(y2))


def text_px(s, x, y, color, size=26, weight="normal", align="left", baseline="middle"):
    return alt.Chart(DUMMY).mark_text(text=s, align=align, baseline=baseline, font=FONT,
                                      fontSize=size, fontWeight=weight, color=color).encode(
        x=alt.value(x), y=alt.value(y))


def hline(values, scale, color, width=2, dash=None, x1=14, x2=2560):
    kw = {"strokeDash": dash} if dash else {}
    return alt.Chart(pd.DataFrame({"p": values})).mark_rule(color=color, strokeWidth=width, **kw).encode(
        y=Y("p", scale), x=alt.value(x1), x2=alt.value(x2))


def seg(pairs, color, width, dash=None):
    kw = {"strokeDash": dash} if dash else {}
    return alt.Chart(pd.DataFrame(pairs, columns=["k", "p"])).mark_line(
        color=color, strokeWidth=width, strokeCap="round", **kw).encode(x=X("k"), y=Y("p", PS))


def ema(pairs, color, width):
    return alt.Chart(kdf(pairs)).mark_line(color=color, strokeWidth=width, interpolate="monotone").encode(
        x=X("k"), y=Y("v", PS))


layers = []
# pane backgrounds
layers.append(rect_px(14, 2720, 51, 1544, PANE))
layers.append(alt.Chart(pd.DataFrame({"a": [70.0], "b": [30.0]})).mark_rect(color="#e6d2ce").encode(
    y=Y("a", RS), y2="b", x=alt.value(14), x2=alt.value(2560)))
# grid
layers.append(alt.Chart(pd.DataFrame({"k": MONTH_K})).mark_rule(color=GRID, strokeWidth=2).encode(
    x=X("k"), y=alt.value(51), y2=alt.value(1406)))
layers.append(hline(PRICE_TICKS + HIDDEN_TICKS, PS, GRID, 2))
layers.append(hline(RSI_TICKS, RS, GRID, 2))
# RSI levels
layers.append(hline([70, 30], RS, "#7b7e88", 2, [9, 7]))
layers.append(hline([50], RS, "#a3a3aa", 2, [9, 7]))
# RSI fills, lines
layers.append(alt.Chart(rsi).mark_area(color="#9fd19f", opacity=0.6).encode(x=X("k"), y=Y("ob", RS), y2="l70"))
layers.append(alt.Chart(rsi).mark_area(color="#f3a0a0", opacity=0.6).encode(x=X("k"), y=Y("os", RS), y2="l30"))
layers.append(alt.Chart(rsi).mark_line(color="#7e57c2", strokeWidth=2.0).encode(x=X("k"), y=Y("v", RS)))
layers.append(alt.Chart(rsima).mark_line(color="#fdd835", strokeWidth=2.8, interpolate="monotone").encode(
    x=X("k"), y=Y("v", RS)))
# volume
layers.append(alt.Chart(df).mark_bar(size=3.0).encode(
    x=X("k"), y=Y("vol", VS), y2="z", color=alt.Color("vcol:N", scale=None)))
# fib levels
layers.append(alt.Chart(fib).mark_rule(color=FIBC, strokeWidth=2.5).encode(x=X("a"), x2="b", y=Y("p", PS)))
layers.append(alt.Chart(fib).mark_text(align="right", baseline="middle", font=FONT, fontSize=26, color=FIBC).encode(
    x=alt.value(754.7), y=Y("p", PS), text="lab:N"))
layers.append(seg(DIAG, "#111111", 2.3, [12, 9]))
# candles
layers.append(alt.Chart(df).mark_rule(color="#6e6e6e", strokeWidth=1.3).encode(x=X("k"), y=Y("hi", PS), y2="lo"))
layers.append(alt.Chart(df).mark_bar(size=3.7).encode(
    x=X("k"), y=Y("o", PS), y2="c", color=alt.Color("body:N", scale=None)))
# EMAs
layers.append(ema(EMA200, "#2962ff", 3.0))
layers.append(ema(EMA100, "#6a3bbd", 2.6))
layers.append(ema(EMA50, "#f23645", 2.6))
layers.append(ema(EMA20, "#13704f", 2.6))
# channel
layers.append(seg(CH_UPPER, "#000000", 5))
layers.append(seg(CH_LOWER, "#000000", 5))
# last price line
layers.append(hline([LAST_PRICE], PS, "#4f9a72", 2, [2, 6], 14, 2400))

# separators
layers.append(rect_px(14, 2720, 244, 247, "#2b2b2b"))
layers.append(rect_px(14, 2720, 1406, 1408.5, "#2b2b2b"))
layers.append(rect_px(14, 2720, 1482, 1484.5, "#5c5c5c"))
layers.append(rect_px(2559, 2561, 51, 1544, "#505050"))

# price axis
ptick = pd.DataFrame({"p": PRICE_TICKS, "lab": [f"{p:.4f}" for p in PRICE_TICKS]})
layers.append(alt.Chart(ptick).mark_text(align="left", baseline="middle", font=FONT, fontSize=25, color=TXT).encode(
    x=alt.value(2582), y=Y("p", PS), text="lab:N"))
rtick = pd.DataFrame({"p": RSI_TICKS, "lab": [f"{p:.2f}" for p in RSI_TICKS]})
layers.append(alt.Chart(rtick).mark_text(align="left", baseline="middle", font=FONT, fontSize=25, color=TXT).encode(
    x=alt.value(2582), y=Y("p", RS), text="lab:N"))
layers.append(rect_px(2569, 2711, 255, 310, "#ffffff", cornerRadius=7))
layers.append(text_px("USDT", 2640, 283, "#131722", 26, 500, "center"))
# last price tag
layers.append(rect_px(2400.6, 2559, 996.6, 1028.8, "#6ba583", cornerRadius=3))
layers.append(rect_px(2560, 2695.5, 996.6, 1057.4, "#6ba583", cornerRadius=3))
layers.append(text_px("WLDUSDT.P", 2407, 1013, "#ffffff", 23))
layers.append(text_px(f"{LAST_PRICE:.4f}", 2579, 1013, "#ffffff", 25))
layers.append(text_px("12:47:59", 2579, 1042, "#eaf4ee", 25))

# time axis
mdf = pd.DataFrame({"k": MONTH_K, "lab": MONTH_LAB})
layers.append(alt.Chart(mdf[mdf.lab != "2026"]).mark_text(baseline="middle", font=FONT, fontSize=24.5, color=TXT).encode(
    x=X("k"), y=alt.value(1513), text="lab:N"))
layers.append(alt.Chart(mdf[mdf.lab == "2026"]).mark_text(baseline="middle", font=FONT, fontSize=24.5, fontWeight="bold",
                                                          color="#3a3d46").encode(
    x=X("k"), y=alt.value(1513), text="lab:N"))

# legends
layers.append(text_px("RSI (14, close)", 32, 87, TXT))
layers.append(text_px("49.94", 226, 87, "#7e57c2"))
layers.append(text_px("36.45", 313, 87, "#f2c811"))
layers.append(text_px("WLD / TetherUS PERPETUAL CONTRACT · 1D · Binance", 32, 282, TXT))
for lab, val, xl, xv in [("O", "0.3125", 733, 751), ("H", "0.3541", 851, 868),
                         ("L", "0.3122", 970, 983), ("C", "0.3409", 1083, 1099)]:
    layers.append(text_px(lab, xl, 282, TXT))
    layers.append(text_px(val, xv, 282, "#1e6b45"))
layers.append(text_px("+0.0284 (+9.09%)", 1206, 282, "#1e6b45"))
for lab, val, col, y, xv in [("EMA (50, close)", "0.3647", "#f23645", 318, 245),
                             ("EMA (200, close)", "0.4337", "#2962ff", 355, 262),
                             ("Vol · WLD", "277.72 M", "#22ab94", 391, 168),
                             ("EMA (20, close)", "0.3305", "#13704f", 429, 245),
                             ("EMA (100, close)", "0.3788", "#6a3bbd", 466, 258)]:
    layers.append(text_px(lab, 32, y, TXT))
    layers.append(text_px(val, xv, y, col))
layers.append(text_px("Funding Rate", 32, 1445, TXT))
layers.append(text_px("0.0100%", 211, 1445, "#089981"))

# header and watermark
layers.append(text_px("bitcoinwallah created with TradingView.com, Aug 10, 2026 07:12 UTC-4", 14, 25, "#d6d6d6", 26))
layers.append(rect_px(19, 45, 1592.7, 1605, LOGO))
layers.append(rect_px(31, 45, 1592.7, 1624.7, LOGO))
layers.append(alt.Chart(DUMMY).mark_circle(size=140, color=LOGO, opacity=1).encode(x=alt.value(60), y=alt.value(1599)))
layers.append(alt.Chart(pd.DataFrame(LOGO_SLANT, columns=["y", "x1", "x2"])).mark_area(
    orient="horizontal", color=LOGO).encode(
    y=alt.Y("y:Q", scale=None, axis=None), x=alt.X("x1:Q", scale=None, axis=None), x2="x2"))
layers.append(text_px("TradingView", 99, 1624.7, LOGO, 44, 600, "left", "alphabetic"))

chart = alt.layer(*layers).resolve_scale(x="independent", y="independent", color="independent").properties(
    width=W, height=H, background=BG, padding=0,
    autosize=alt.AutoSizeParams(type="none")).configure_view(stroke=None)

chart.save("out.html", embed_options={"renderer": "svg", "actions": False})
